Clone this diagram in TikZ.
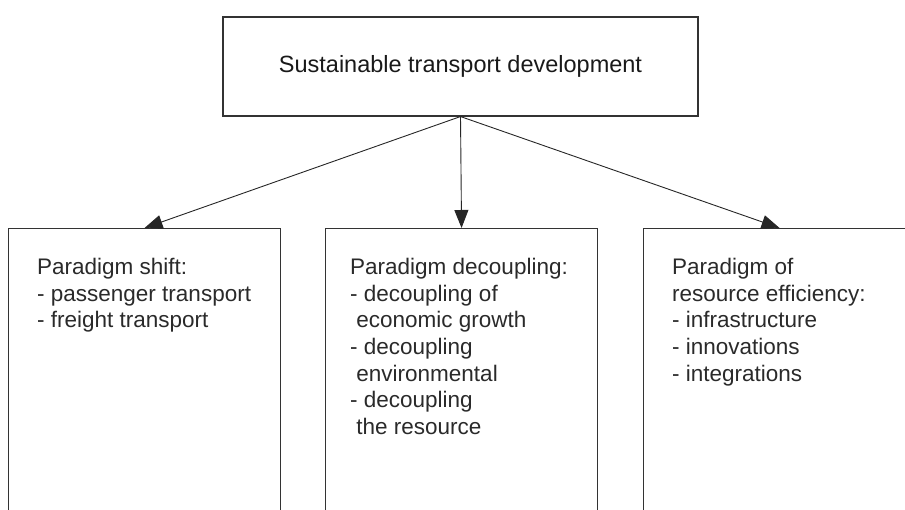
\documentclass[tikz,border=0pt]{standalone}
\usepackage{fontspec}
\setmainfont{Liberation Sans}
\usetikzlibrary{arrows.meta}
\usepackage{xcolor}
\definecolor{boxline}{HTML}{333333}
\definecolor{boxtext}{HTML}{2A2A2A}

\begin{document}
\begin{tikzpicture}[x=1pt,y=1pt,
 frame/.style={draw=boxline, line width=1.1pt, minimum width=272, minimum height=320, inner sep=0, anchor=north west},
 body/.style={anchor=north west, inner sep=0, align=left, text=boxtext, font=\fontsize{22.5}{26.7}\selectfont},
 arr/.style={draw=black!85, line width=.9pt, -{Triangle[length=18pt,width=14pt]}}]
\clip (0,0) rectangle (905,510);
\useasboundingbox (0,0) rectangle (905,510);
\node[draw=boxline, line width=1.1pt, minimum width=475, minimum height=99, font=\fontsize{23.5}{28}\selectfont, text=black!90] (goal) at (460.5,443.5) {Sustainable transport development};
\node[frame] (shift) at (8,282) {};
\node[frame] (decoup) at (325,282) {};
\node[frame] (effic) at (643,282) {};
\node[body] (shifttxt) at (37,252) {Paradigm shift:\\- passenger transport\\- freight transport};
\node[body] (decouptxt) at (350,252) {Paradigm decoupling:\\- decoupling of\\\ economic growth\\- decoupling\\\ environmental\\- decoupling\\\ the resource};
\node[body] (effictxt) at (672,252) {Paradigm of\\resource efficiency:\\- infrastructure\\- innovations\\- integrations};
\draw[arr] (goal.south) -- (shift.north);
\draw[arr] (goal.south) -- (decoup.north);
\draw[arr] (goal.south) -- (effic.north);
\end{tikzpicture}
\end{document}
